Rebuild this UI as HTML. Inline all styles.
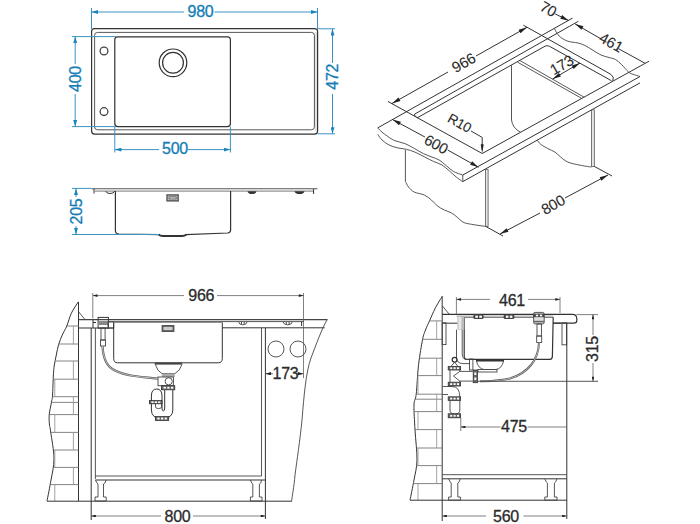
<!DOCTYPE html>
<html><head><meta charset="utf-8">
<style>
html,body{margin:0;padding:0;background:#fff;width:700px;height:524px;overflow:hidden}
svg{display:block}
text{font-family:"Liberation Sans",sans-serif;font-size:16px;letter-spacing:-0.25px}
.b{fill:#157db5;stroke:#157db5;stroke-width:0.3}
.k{fill:#2b2b2b;stroke:#2b2b2b;stroke-width:0.3}
.bl{stroke:#3a93c4;stroke-width:1;fill:none}
.dk{stroke:#333;stroke-width:1.2;fill:none}
.th{stroke:#444;stroke-width:0.9;fill:none}
.ln{stroke:#333;stroke-width:1;fill:none}
.dm{stroke:#555;stroke-width:0.75;fill:none}
</style></head><body>
<svg width="700" height="524" viewBox="0 0 700 524">
<defs>
<marker id="ab" viewBox="0 0 10 6" refX="10" refY="3" markerWidth="7" markerHeight="4" orient="auto-start-reverse" markerUnits="userSpaceOnUse"><path d="M0,0 L10,3 L0,6 z" fill="#1b85bb"/></marker>
<marker id="ak" viewBox="0 0 10 6" refX="10" refY="3" markerWidth="6.5" markerHeight="2.8" orient="auto-start-reverse" markerUnits="userSpaceOnUse"><path d="M0,0 L10,3 L0,6 z" fill="#222"/></marker>
<marker id="ak2" viewBox="0 0 10 6" refX="10" refY="3" markerWidth="7.5" markerHeight="3.4" orient="auto-start-reverse" markerUnits="userSpaceOnUse"><path d="M0,0 L10,3 L0,6 z" fill="#222"/></marker>
</defs>


<!-- ============ PLAN VIEW (top-left) ============ -->
<g id="plan">
  <path d="M316,32 V131" stroke="#e2e2e2" stroke-width="2.4"/>
  <rect x="91.6" y="28.6" width="226" height="105.5" rx="3" class="dk"/>
  <rect x="94.6" y="32.4" width="219.8" height="97.4" rx="3" class="th"/>
  <rect x="114.8" y="36.8" width="115.6" height="89.8" rx="3" class="dk"/>
  <circle cx="104" cy="51" r="3.9" stroke="#444" stroke-width="1.3" fill="none"/>
  <circle cx="104" cy="111.6" r="3.9" stroke="#444" stroke-width="1.3" fill="none"/>
  <circle cx="173" cy="62.8" r="13.8" class="dk" stroke-width="1.4"/>
  <circle cx="173" cy="62.8" r="10.4" class="dk" stroke-width="1.4"/>
  <!-- 980 -->
  <line x1="91.5" y1="8" x2="91.5" y2="29" class="bl"/>
  <line x1="317.5" y1="8" x2="317.5" y2="29" class="bl"/>
  <line x1="91.5" y1="12" x2="184" y2="12" class="bl" marker-start="url(#ab)"/>
  <line x1="214.5" y1="12" x2="317.5" y2="12" class="bl" marker-end="url(#ab)"/>
  <text x="200.5" y="16.8" text-anchor="middle" class="b">980</text>
  <!-- 472 -->
  <line x1="317.5" y1="28.8" x2="335" y2="28.8" class="bl"/>
  <line x1="317.5" y1="133.8" x2="335" y2="133.8" class="bl"/>
  <line x1="332.5" y1="28.8" x2="332.5" y2="63" class="bl" marker-start="url(#ab)"/>
  <line x1="332.5" y1="94" x2="332.5" y2="133.8" class="bl" marker-end="url(#ab)"/>
  <text transform="translate(338.2,76.8) rotate(-90)" text-anchor="middle" class="b">472</text>
  <!-- 400 -->
  <line x1="72" y1="36.6" x2="116" y2="36.6" class="bl"/>
  <line x1="72" y1="126.6" x2="116" y2="126.6" class="bl"/>
  <line x1="75.2" y1="36.6" x2="75.2" y2="64" class="bl" marker-start="url(#ab)"/>
  <line x1="75.2" y1="94" x2="75.2" y2="126.6" class="bl" marker-end="url(#ab)"/>
  <text transform="translate(80.5,79) rotate(-90)" text-anchor="middle" class="b">400</text>
  <!-- 500 -->
  <line x1="114.8" y1="126.6" x2="114.8" y2="152.5" class="bl"/>
  <line x1="230.4" y1="126.6" x2="230.4" y2="152.5" class="bl"/>
  <line x1="114.8" y1="149.6" x2="159" y2="149.6" class="bl" marker-start="url(#ab)"/>
  <line x1="188" y1="149.6" x2="230.4" y2="149.6" class="bl" marker-end="url(#ab)"/>
  <text x="175" y="153.6" text-anchor="middle" class="b">500</text>
</g>

<!-- ============ SIDE VIEW (205) ============ -->
<g id="side">
  <line x1="91.3" y1="188.7" x2="317.5" y2="188.7" stroke="#555" stroke-width="1.1"/>
  <line x1="95" y1="191.1" x2="314" y2="191.1" stroke="#777" stroke-width="1"/>
  <path d="M115.4,191 V230.4 Q115.4,233.8 119,234 L159.5,234.6" class="dk" stroke="#555"/>
  <path d="M230.6,191 V230 Q230.6,232.8 227.6,233 L185.7,234.6" class="dk" stroke="#555"/>
  <path d="M158.5,234.3 Q160,236 163,236 H182 Q185,236 186.5,234.3" stroke="#333" stroke-width="1.8" fill="none"/>
  <rect x="166.3" y="194.2" width="12.6" height="7.4" fill="#5a5a5a"/>
  <rect x="167.8" y="195.7" width="9.6" height="4.4" fill="#cfcfcf"/>
  <rect x="169" y="196.8" width="7.2" height="2.2" fill="none" stroke="#555" stroke-width="0.8"/>
  <line x1="94" y1="188.8" x2="94" y2="193.5" class="ln" stroke-width="1.4"/>
  <path d="M105.6,191.2 Q106.5,193.5 110,193.5 Q113.5,193.5 114.8,191.2" class="ln" stroke-width="1.2"/>
  <path d="M247.5,191.2 Q248,194 252,194 Q256,194 256.5,191.2 z" fill="#333"/>
  <path d="M294.5,191.2 Q295,194 299.5,194 Q304,194 304.5,191.2 z" fill="#333"/>
  <line x1="313.6" y1="189" x2="313.6" y2="194" class="ln" stroke-width="1.2"/>
  <!-- 205 -->
  <line x1="72" y1="188.4" x2="91" y2="188.4" class="bl"/>
  <line x1="72" y1="234.5" x2="159" y2="234.5" class="bl"/>
  <line x1="76" y1="188.4" x2="76" y2="197" class="bl" marker-start="url(#ab)"/>
  <line x1="76" y1="226" x2="76" y2="234.5" class="bl" marker-end="url(#ab)"/>
  <text transform="translate(81.5,211.5) rotate(-90)" text-anchor="middle" class="b">205</text>
</g>

<path d="M78.3,301.9 C77.1,303.8 73.2,309.3 71.3,313.3 C69.4,317.3 68.3,322.4 66.8,326.0 C65.3,329.6 63.6,332.1 62.2,335.1 C60.9,338.2 59.7,341.0 58.7,344.3 C57.7,347.6 57.0,351.4 56.3,355.0 C55.5,358.6 54.7,362.7 54.2,366.0 C53.7,369.3 53.7,370.0 53.4,375.0 C53.1,380.0 52.8,391.5 52.5,396.0 C52.2,400.5 52.0,398.8 51.5,402.0 C51.0,405.2 49.5,411.2 49.2,415.0 C48.9,418.8 49.2,422.2 49.5,425.0 C49.8,427.8 50.0,426.3 50.7,432.0 C51.5,437.7 54.0,451.0 54.0,459.0 C54.0,467.0 52.2,473.0 51.0,480.0 C49.8,487.0 47.7,497.5 47.0,501.0" class="ln"/>
<line x1="78.5" y1="301.9" x2="78.5" y2="501" class="ln"/>
<line x1="78.5" y1="311.6" x2="84.8" y2="319.3" class="th"/>
<line x1="66.8" y1="326" x2="78.5" y2="326" stroke="#777" stroke-width="0.9"/>
<line x1="58.8" y1="344" x2="78.5" y2="344" stroke="#777" stroke-width="0.9"/>
<line x1="55.2" y1="361" x2="78.5" y2="361" stroke="#777" stroke-width="0.9"/>
<line x1="53.2" y1="379.2" x2="78.5" y2="379.2" stroke="#777" stroke-width="0.9"/>
<line x1="52.4" y1="396.7" x2="78.5" y2="396.7" stroke="#777" stroke-width="0.9"/>
<line x1="51.4" y1="402.4" x2="78.5" y2="402.4" stroke="#777" stroke-width="0.9"/>
<line x1="49.3" y1="414.6" x2="78.5" y2="414.6" stroke="#777" stroke-width="0.9"/>
<line x1="50.7" y1="432.4" x2="78.5" y2="432.4" stroke="#777" stroke-width="0.9"/>
<line x1="52.9" y1="450" x2="78.5" y2="450" stroke="#777" stroke-width="0.9"/>
<line x1="52.8" y1="467.4" x2="78.5" y2="467.4" stroke="#777" stroke-width="0.9"/>
<line x1="50.1" y1="484.6" x2="78.5" y2="484.6" stroke="#777" stroke-width="0.9"/>
<line x1="73.4" y1="326" x2="73.4" y2="344.3" stroke="#999" stroke-width="0.9"/>
<line x1="73.4" y1="361" x2="73.4" y2="379.2" stroke="#999" stroke-width="0.9"/>
<line x1="54.8" y1="379.2" x2="54.8" y2="396.7" stroke="#999" stroke-width="0.9"/>
<line x1="73.4" y1="396.7" x2="73.4" y2="414.6" stroke="#999" stroke-width="0.9"/>
<line x1="54.8" y1="414.6" x2="54.8" y2="432.4" stroke="#999" stroke-width="0.9"/>
<line x1="73.4" y1="432.4" x2="73.4" y2="450" stroke="#999" stroke-width="0.9"/>
<line x1="54.8" y1="450" x2="54.8" y2="467.4" stroke="#999" stroke-width="0.9"/>
<line x1="73.4" y1="467.4" x2="73.4" y2="484.6" stroke="#999" stroke-width="0.9"/>
<line x1="54.8" y1="484.6" x2="54.8" y2="501" stroke="#999" stroke-width="0.9"/>
<path d="M442.2,296.3 C441.0,298.3 437.3,304.2 435.2,308.3 C433.1,312.4 431.1,317.3 429.5,320.9 C427.9,324.5 426.6,326.9 425.5,330.0 C424.4,333.1 423.8,333.6 422.6,339.3 C421.5,345.0 419.7,355.2 418.6,364.4 C417.5,373.5 417.0,387.4 416.2,394.2 C415.4,401.0 414.2,399.0 414.0,405.0 C413.8,411.0 414.5,420.8 415.0,430.0 C415.5,439.2 417.2,451.7 417.0,460.0 C416.8,468.3 415.2,473.3 414.0,480.0 C412.8,486.7 410.7,496.7 410.0,500.0" class="ln"/>
<line x1="442.2" y1="296.3" x2="442.2" y2="500" class="ln"/>
<line x1="442.4" y1="306" x2="449.3" y2="314.3" class="th"/>
<line x1="429.5" y1="320.9" x2="442.2" y2="320.9" stroke="#777" stroke-width="0.9"/>
<line x1="422.6" y1="339.3" x2="442.2" y2="339.3" stroke="#777" stroke-width="0.9"/>
<line x1="419.6" y1="358.2" x2="442.2" y2="358.2" stroke="#777" stroke-width="0.9"/>
<line x1="417.7" y1="375.6" x2="442.2" y2="375.6" stroke="#777" stroke-width="0.9"/>
<line x1="416.2" y1="394.2" x2="442.2" y2="394.2" stroke="#777" stroke-width="0.9"/>
<line x1="415.2" y1="399.2" x2="442.2" y2="399.2" stroke="#777" stroke-width="0.9"/>
<line x1="414.3" y1="411.6" x2="442.2" y2="411.6" stroke="#777" stroke-width="0.9"/>
<line x1="415.0" y1="429.6" x2="442.2" y2="429.6" stroke="#777" stroke-width="0.9"/>
<line x1="416.2" y1="448" x2="442.2" y2="448" stroke="#777" stroke-width="0.9"/>
<line x1="416.2" y1="465.6" x2="442.2" y2="465.6" stroke="#777" stroke-width="0.9"/>
<line x1="413.3" y1="483.6" x2="442.2" y2="483.6" stroke="#777" stroke-width="0.9"/>
<line x1="436.7" y1="320.9" x2="436.7" y2="339.3" stroke="#999" stroke-width="0.9"/>
<line x1="436.7" y1="358.2" x2="436.7" y2="375.6" stroke="#999" stroke-width="0.9"/>
<line x1="418" y1="375.6" x2="418" y2="394.2" stroke="#999" stroke-width="0.9"/>
<line x1="436.7" y1="394.2" x2="436.7" y2="411.6" stroke="#999" stroke-width="0.9"/>
<line x1="418" y1="411.6" x2="418" y2="429.6" stroke="#999" stroke-width="0.9"/>
<line x1="436.7" y1="429.6" x2="436.7" y2="448" stroke="#999" stroke-width="0.9"/>
<line x1="418" y1="448" x2="418" y2="465.6" stroke="#999" stroke-width="0.9"/>
<line x1="436.7" y1="465.6" x2="436.7" y2="483.6" stroke="#999" stroke-width="0.9"/>
<line x1="418" y1="483.6" x2="418" y2="500" stroke="#999" stroke-width="0.9"/>
<!-- ============ LEFT ELEVATION (front) ============ -->
<g id="elevL">
  <!-- countertop -->
  <line x1="78.5" y1="319.6" x2="327.3" y2="319.6" stroke="#444" stroke-width="1.3"/>
  <path d="M78.5,328 H113.7 M222.3,327.8 H324.7" class="ln"/>
  <line x1="108" y1="321.6" x2="304" y2="321.6" class="th"/>
  <path d="M327.3,319.5 C322,328 316,345 311,358 C306,372 304,395 302,420 C300,440 297,460 295,475 C294,488 292,496 291.6,501.4" class="th"/>
  <!-- floor -->
  <line x1="47" y1="501.2" x2="291.6" y2="501.2" class="ln"/>
  <!-- cabinet panels -->
  <line x1="91.2" y1="328" x2="91.2" y2="520" class="ln"/>
  <line x1="95.4" y1="328" x2="95.4" y2="479" class="th"/>
  <line x1="261.5" y1="328" x2="261.5" y2="476" class="th"/>
  <line x1="265.4" y1="328" x2="265.4" y2="519" class="ln"/>
  <line x1="95.4" y1="476" x2="261.5" y2="476" class="th"/>
  <line x1="95.4" y1="480" x2="265.4" y2="480" class="ln"/>
  <!-- legs -->
  <path d="M95.5,480 Q97,484 98,484 V497 H95 V501 H106.2 V497 H103.5 V484 Q105,484 106.2,480" class="th"/>
  <path d="M250.4,480 Q252,484 252.8,484 V497 H250.4 V501 H262 V497 H259.4 V484 Q261,484 261.6,480" class="th"/>
  <!-- tap fitting -->
  <rect x="98.1" y="317.4" width="10.3" height="10.7" class="ln" fill="#eee"/>
  <rect x="98.6" y="321" width="9.3" height="4" fill="#888"/>
  <rect x="101" y="328" width="4.1" height="12" class="th"/>
  <rect x="100.5" y="340" width="5" height="6" class="th"/>
  <path d="M93,320 V328 M93,322.5 H96" class="ln"/>
  <rect x="108" y="322" width="5.7" height="6" class="th"/>
  <!-- hose -->
  <path d="M102.5,346 C103,356 106,366 114,370 C125,376 140,377 158,378.5" stroke="#555" stroke-width="2.2" fill="none"/>
  <path d="M102.5,346 C103,356 106,366 114,370 C125,376 140,377 158,378.5" stroke="#ddd" stroke-width="0.8" fill="none"/>
  <!-- basin -->
  <path d="M113.7,322.4 V358.5 Q113.7,362.8 117.7,362.8 H218.3 Q222.3,362.8 222.3,358.5 V322.4" class="ln" stroke="#444"/>
  <line x1="113.7" y1="322.5" x2="222.3" y2="322.5" stroke="#888" stroke-width="0.9"/>
  <rect x="161.6" y="325" width="12.8" height="7" fill="#555"/>
  <rect x="163.4" y="326.8" width="9.2" height="3.4" fill="#ccc"/>
  <!-- clips -->
  <path d="M238.6,321.8 Q239,324.8 242.8,324.8 Q246.7,324.8 247.1,321.8 M241.5,322 V324.3 M244.2,322 V324.3" class="th"/>
  <path d="M283.1,321.8 Q283.5,324.8 287.7,324.8 Q291.9,324.8 292.3,321.8 M286.3,322 V324.3 M289.1,322 V324.3" class="th"/>
  <line x1="301.6" y1="321.6" x2="301.6" y2="326" class="ln"/>
  <!-- drain & trap -->
  <rect x="154.7" y="362.6" width="27.4" height="2" fill="#444"/>
  <path d="M155.4,364.4 Q157,371 162,373.7 H174.8 Q180,371 182,364.4" class="th" fill="#f4f4f4"/>
  <rect x="162" y="373.7" width="12.8" height="3.3" fill="#aaa"/>
  <rect x="158" y="377" width="15.4" height="8.7" class="th" fill="#fafafa"/>
  <path d="M164.7,389.8 V408 Q164.7,411 163.3,411 Q162,411 162,408 V396 Q162,389 156.7,389 Q151.4,389 151.4,396 V410 Q151.4,418.5 162,418.5 Q172.8,418.5 172.8,410 V389.8" class="ln" stroke="#444"/>
  <circle cx="168.7" cy="381.3" r="3.6" class="th" fill="none"/>
  <path d="M155.5,403.8 V407 Q155.5,408.5 158.5,408.5 Q161.5,408.5 161.5,407 V403.8" class="th"/>
  <g fill="#666" stroke="#333" stroke-width="0.8">
    <rect x="161.4" y="385.7" width="13.4" height="4.1"/>
    <rect x="149.4" y="400.5" width="12.6" height="3.3"/>
    <rect x="155.4" y="416.5" width="13.3" height="4"/>
  </g>
  <g fill="#fff">
    <rect x="163.6" y="386.8" width="2.2" height="1.9"/><rect x="167.3" y="386.8" width="2.2" height="1.9"/><rect x="171" y="386.8" width="2.2" height="1.9"/>
    <rect x="151.4" y="401.4" width="2.2" height="1.6"/><rect x="154.8" y="401.4" width="2.2" height="1.6"/><rect x="158.2" y="401.4" width="2.2" height="1.6"/>
    <rect x="157.4" y="417.6" width="2.2" height="1.9"/><rect x="161" y="417.6" width="2.2" height="1.9"/><rect x="164.6" y="417.6" width="2.2" height="1.9"/>
  </g>
  <!-- wall tip block (countertop left) -->
  <!-- 966 -->
  <line x1="92.8" y1="293" x2="92.8" y2="318.4" class="dm"/>
  <line x1="303.5" y1="293" x2="303.5" y2="378" class="dm"/>
  <line x1="92.8" y1="295.6" x2="184" y2="295.6" class="dm" marker-start="url(#ak)"/>
  <line x1="217" y1="295.6" x2="303.5" y2="295.6" class="dm" marker-end="url(#ak)"/>
  <text x="201.3" y="301.3" text-anchor="middle" class="k">966</text>
  <!-- circles -->
  <circle cx="276" cy="349" r="8" class="th"/>
  <circle cx="298" cy="349" r="8" class="th"/>
  <!-- 173 -->
  <line x1="265.4" y1="373.7" x2="273" y2="373.7" class="dm" marker-start="url(#ak2)"/>
  <line x1="297" y1="373.7" x2="303.5" y2="373.7" class="dm" marker-end="url(#ak2)"/>
  <text x="285.5" y="378.5" text-anchor="middle" class="k">173</text>
  <!-- 800 -->
  <line x1="91.2" y1="516" x2="161" y2="516" class="dm" marker-start="url(#ak)"/>
  <line x1="193" y1="516" x2="265.4" y2="516" class="dm" marker-end="url(#ak)"/>
  <text x="177.5" y="522.3" text-anchor="middle" class="k">800</text>
</g>

<!-- ============ RIGHT ELEVATION (side) ============ -->
<g id="elevR">
  <!-- countertop -->
  <path d="M442.2,314.3 H572.5 Q576.8,314.3 576.8,319 V320.5 Q576.8,323.2 574,323.2 H553.2" class="dk"/>
  <path d="M442.2,323.2 H457.6 M553.2,323.2 H561" class="ln"/>
  <rect x="442.2" y="322.8" width="3.8" height="21.8" class="th"/>
  <!-- cabinet -->
  <rect x="562" y="322.8" width="4.6" height="22" class="th" fill="#eee"/>
  <line x1="566.8" y1="322.8" x2="566.8" y2="519" class="ln"/>
  <line x1="442.2" y1="474.7" x2="566.8" y2="474.7" class="th"/>
  <line x1="442.2" y1="478.8" x2="566.8" y2="478.8" class="ln"/>
  <line x1="410" y1="500.2" x2="566.8" y2="500.2" class="ln"/>
  <line x1="442.2" y1="500" x2="442.2" y2="521" class="ln"/>
  <path d="M448.6,478.8 Q450.5,483 451.2,483 V497 H448.6 V500.2 H460.4 V497 H457.8 V483 Q459,483 460.4,478.8" class="th"/>
  <path d="M544.8,478.8 Q546.5,483 547.4,483 V497 H544.8 V500.2 H557 V497 H554.4 V483 Q555.5,483 557,478.8" class="th"/>
  <!-- sink -->
  <rect x="456.4" y="315" width="96.8" height="2.3" fill="#d8d8d8"/>
  <line x1="460.8" y1="317.3" x2="553.2" y2="317.3" stroke="#555" stroke-width="0.9"/>
  <path d="M464.2,317.5 V356.5 Q464.2,359.4 467.5,359.4 H550 Q552.3,359.4 552.4,356 L553.2,317.3" class="dk" stroke="#444"/>
  <g fill="#444"><rect x="473.3" y="314.4" width="10.3" height="4.5" rx="1.5"/><rect x="503.6" y="314.4" width="10.8" height="4.5" rx="1.5"/></g>
  <g fill="#fff"><rect x="475.3" y="315.6" width="2.6" height="2.2"/><rect x="479.3" y="315.6" width="2.6" height="2.2"/><rect x="505.8" y="315.6" width="2.6" height="2.2"/><rect x="509.8" y="315.6" width="2.6" height="2.2"/></g>
  <!-- tap -->
  <rect x="533.6" y="312.4" width="10.6" height="11.5" rx="1.5" fill="#e0e0e0" stroke="#444" stroke-width="0.9"/>
  <rect x="533.6" y="313.6" width="10.6" height="3.6" fill="#444"/>
  <rect x="535.8" y="314.6" width="2.4" height="1.8" fill="#fff"/><rect x="539.8" y="314.6" width="2.4" height="1.8" fill="#fff"/>
  <rect x="533.6" y="320.8" width="10.6" height="1.6" fill="#666"/>
  <rect x="537" y="324" width="4.4" height="12" class="th"/>
  <rect x="536.7" y="336" width="5" height="6.5" class="th"/>
  <path d="M539,342.5 C538.5,360 528,373 510,378.5 C500,381 492,381 480,381.3" stroke="#555" stroke-width="2" fill="none"/>
  <path d="M539,342.5 C538.5,360 528,373 510,378.5 C500,381 492,381 480,381.3" stroke="#ddd" stroke-width="0.7" fill="none"/>
  <!-- overflow pipe -->
  <rect x="457.4" y="316" width="6.9" height="13.6" fill="#bbb"/>
  <rect x="458.4" y="317" width="3" height="12" fill="#e8e8e8"/>
  <path d="M456.5,329.6 V357 Q456.5,363.6 463,363.6 H470" class="th" stroke="#666"/>
  <path d="M462.2,329.6 V354 Q462.2,359.5 467,359.5 H470" class="th" stroke="#666"/>
  <circle cx="454.6" cy="359.8" r="2.4" fill="none" stroke="#333" stroke-width="1.2"/>
  <rect x="469.5" y="359" width="3.4" height="11" class="th" fill="#f4f4f4"/>
  <!-- drain -->
  <rect x="476" y="359.5" width="28" height="2" fill="#333"/>
  <path d="M476.5,361 Q478,368.5 484,369.5 H496 Q502,368.5 503.5,361" class="th" fill="#f4f4f4"/>
  <rect x="478" y="369.5" width="19" height="2.5" class="th" fill="#ddd"/>
  <!-- trap -->
  <path d="M454.6,362.2 L451,366.4 M454.6,362.2 L458,366.4" class="th"/>
  <path d="M450,370 V382 M459.8,370 V371.4 M459.8,381 V382" class="th"/>
  <path d="M459.8,371.4 H472.8 M459.8,381.1 H472.8 M453.5,376 L459.8,371.4 M453.5,376 L459.8,381.1" class="th"/>
  <path d="M442.5,386.5 H452 Q459.8,386.5 459.8,396.8 M442.5,394.5 H448" class="th"/>
  <path d="M450,400.4 V410 Q450,414 454.9,414 Q459.8,414 459.8,410 V400.4" class="th"/>
  <g fill="#666" stroke="#333" stroke-width="0.8">
    <rect x="448.2" y="366.4" width="12.4" height="3.6"/>
    <rect x="448.2" y="382.2" width="12.4" height="3.8"/>
    <rect x="448.2" y="396.8" width="12.4" height="3.6"/>
    <rect x="448.2" y="413.8" width="12.4" height="4"/>
  </g>
  <g fill="#fff">
    <rect x="450.2" y="367.3" width="2" height="1.8"/><rect x="453.6" y="367.3" width="2" height="1.8"/><rect x="457" y="367.3" width="2" height="1.8"/>
    <rect x="450.2" y="383.2" width="2" height="1.8"/><rect x="453.6" y="383.2" width="2" height="1.8"/><rect x="457" y="383.2" width="2" height="1.8"/>
    <rect x="450.2" y="397.7" width="2" height="1.8"/><rect x="453.6" y="397.7" width="2" height="1.8"/><rect x="457" y="397.7" width="2" height="1.8"/>
    <rect x="450.2" y="414.9" width="2" height="1.8"/><rect x="453.6" y="414.9" width="2" height="1.8"/><rect x="457" y="414.9" width="2" height="1.8"/>
  </g>
  <rect x="473.2" y="370" width="4.2" height="12.7" fill="#666" stroke="#333" stroke-width="0.8"/>
  <rect x="474.3" y="372.5" width="2" height="2.5" fill="#fff"/><rect x="474.3" y="377.5" width="2" height="2.5" fill="#fff"/>
  <path d="M477.4,381.3 H598" class="th"/>
  <!-- 461 -->
  <line x1="456.4" y1="297" x2="456.4" y2="314.6" class="dm"/>
  <line x1="560" y1="297" x2="560" y2="313" class="dm"/>
  <line x1="456.4" y1="299.4" x2="490" y2="299.4" class="dm" marker-start="url(#ak)"/>
  <line x1="528" y1="299.4" x2="560" y2="299.4" class="dm" marker-end="url(#ak)"/>
  <text x="512" y="305.6" text-anchor="middle" class="k">461</text>
  <!-- 315 -->
  <line x1="576.5" y1="314.6" x2="598" y2="314.6" class="dm"/>
  <line x1="593" y1="314.6" x2="593" y2="335" class="dm" marker-start="url(#ak)"/>
  <line x1="593" y1="363" x2="593" y2="381.3" class="dm" marker-end="url(#ak)"/>
  <text transform="translate(597.5,349) rotate(-90)" text-anchor="middle" class="k">315</text>
  <!-- 475 -->
  <line x1="460.8" y1="418" x2="460.8" y2="431" class="dm"/>
  <line x1="460.8" y1="427" x2="500.5" y2="427" class="dm" marker-start="url(#ak)"/>
  <line x1="527.5" y1="427" x2="566.8" y2="427" class="dm"/>
  <text x="514" y="431.5" text-anchor="middle" class="k">475</text>
  <!-- 560 -->
  <line x1="442.2" y1="516" x2="486" y2="516" class="dm" marker-start="url(#ak)"/>
  <line x1="523.5" y1="516" x2="566.8" y2="516" class="dm" marker-end="url(#ak)"/>
  <text x="506" y="522" text-anchor="middle" class="k">560</text>
</g>

<!-- ============ ISO VIEW ============ -->
<g id="iso">
<line x1="377.7" y1="127.9" x2="572.5" y2="18.1" class="ln" stroke="#444" stroke-width="0.8"/>
<path d="M377.7,127.9 C378.4,128.6 380.3,130.7 382.0,132.1 C383.7,133.5 385.6,135.0 387.7,136.4 C389.8,137.8 392.0,139.5 394.9,140.7 C397.8,141.9 401.8,142.4 404.9,143.6 C408.0,144.8 410.3,146.2 413.4,147.9 C416.5,149.6 420.3,152.1 423.4,153.6 C426.5,155.1 429.4,156.0 432.0,157.1 C434.6,158.2 436.7,158.6 439.1,160.0 C441.5,161.4 443.9,163.8 446.3,165.7 C448.7,167.6 450.7,169.8 453.4,171.4 C456.1,173.0 461.1,174.4 462.7,175.0" class="th"/>
<path d="M377.7,134.3 C378.4,135.2 380.1,138.2 382.0,140.0 C383.9,141.8 386.5,143.7 389.1,145.0 C391.7,146.3 394.8,147.2 397.7,147.9 C400.6,148.6 403.4,148.6 406.3,149.3 C409.2,150.0 411.8,150.8 414.9,152.1 C418.0,153.4 421.8,155.5 424.9,157.1 C428.0,158.7 430.5,160.1 433.4,161.4 C436.2,162.7 439.4,163.4 442.0,165.0 C444.6,166.6 446.7,168.7 449.1,170.7 C451.5,172.7 454.0,175.3 456.3,177.1 C458.6,178.9 461.6,180.8 462.7,181.6" class="th"/>
<line x1="462.8" y1="175" x2="462.8" y2="181.6" class="th"/>
<line x1="462.8" y1="175" x2="640" y2="76.5" class="ln" stroke="#444" stroke-width="0.8"/>
<line x1="462.8" y1="181.6" x2="640" y2="82.9" class="ln" stroke="#444" stroke-width="0.8"/>
<path d="M554.3,28.2 C554.7,28.9 555.5,31.0 556.5,32.5 C557.5,34.0 558.6,35.7 560.5,37.2 C562.4,38.7 565.1,40.3 568.0,41.3 C570.9,42.3 575.2,42.3 578.0,43.0 C580.8,43.7 582.5,44.3 585.0,45.5 C587.5,46.7 590.3,48.7 593.0,50.3 C595.7,51.9 598.3,53.8 601.0,55.0 C603.7,56.2 606.6,56.8 609.0,57.5 C611.4,58.2 613.4,58.3 615.5,59.5 C617.6,60.7 619.3,62.4 621.5,64.5 C623.7,66.6 626.6,70.4 628.5,72.0 C630.4,73.6 631.1,73.5 633.0,74.3 C634.9,75.0 638.8,76.1 640.0,76.5" class="th"/>
<line x1="388" y1="101.5" x2="482.2" y2="153.5" class="ln" stroke="#444" stroke-width="0.8"/>
<path d="M416.5,117 Q412.8,115.2 414.8,114 L578.3,21.3" class="ln" stroke="#444" stroke-width="0.8"/>
<path d="M417.1,117.9 L545,46.2 Q547.5,45 549.5,46.3 L611.6,80.8" class="ln" stroke="#444" stroke-width="0.8"/>
<line x1="482.2" y1="153.5" x2="649" y2="61.2" class="ln" stroke="#444" stroke-width="0.8"/>
<path d="M523.4,25.2 L610.8,74.3 Q614.6,76.8 612.9,80.8" class="ln" stroke="#444" stroke-width="0.8"/>
<path d="M511.5,65.3 V120 Q512.5,128 520.5,132.3" class="th"/>
<line x1="517.6" y1="62.2" x2="581.4" y2="98.2" class="th"/>
<line x1="520.2" y1="60.7" x2="584.3" y2="97.3" class="th"/>
<line x1="405.4" y1="150" x2="405.4" y2="181.4" class="th"/>
<path d="M405.4,181.4 C405.9,182.3 407.1,185.3 408.6,187.1 C410.1,188.9 411.7,190.8 414.3,192.1 C416.9,193.4 421.5,193.7 424.3,195.0 C427.1,196.3 429.3,198.2 431.4,200.0 C433.5,201.8 435.0,204.0 437.1,205.7 C439.2,207.4 441.9,208.8 444.3,210.0 C446.7,211.2 449.3,211.7 451.4,212.9 C453.5,214.1 455.2,215.6 457.1,217.1 C459.0,218.6 460.5,220.9 462.9,222.1 C465.3,223.3 467.6,223.6 471.4,224.3 C475.2,225.0 483.3,226.1 485.7,226.4" class="th"/>
<rect x="485.4" y="169.6" width="2.7" height="56.8" fill="#e6e6e6" stroke="#555" stroke-width="0.8"/>
<rect x="591.4" y="109.8" width="2.9" height="56.6" fill="#e6e6e6" stroke="#555" stroke-width="0.8"/>
<path d="M537.1,140.0 C537.7,140.7 538.9,142.9 540.7,144.3 C542.5,145.7 545.5,147.3 547.9,148.6 C550.3,149.9 552.9,150.7 555.0,152.1 C557.1,153.5 558.6,155.4 560.7,157.1 C562.9,158.8 564.8,160.8 567.9,162.1 C571.0,163.4 575.4,164.2 579.3,165.0 C583.2,165.8 589.4,166.8 591.4,167.1" class="th"/>
<line x1="392.0" y1="103.5" x2="448.0" y2="72.0" class="ln" stroke-width="0.8"/>
<line x1="476.0" y1="56.0" x2="527.0" y2="27.3" class="ln" stroke-width="0.8"/>
<path d="M392.0,103.5 L398.4,97.6 L400.4,101.1 z" fill="#222"/>
<path d="M527.0,27.3 L520.6,33.2 L518.6,29.7 z" fill="#222"/>
<text transform="translate(463.5,62.5) rotate(-29.5)" text-anchor="middle" dominant-baseline="central" class="k" style="font-size:15px;letter-spacing:-0.2px;stroke-width:0.1">966</text>
<line x1="392.5" y1="119.5" x2="424.9" y2="137.0" class="ln" stroke-width="0.8"/>
<line x1="447.7" y1="150.0" x2="478.5" y2="167.2" class="ln" stroke-width="0.8"/>
<path d="M392.5,119.5 L400.9,121.8 L399.0,125.3 z" fill="#222"/>
<path d="M478.5,167.2 L470.1,164.8 L472.1,161.3 z" fill="#222"/>
<text transform="translate(436.3,144.0) rotate(29.0)" text-anchor="middle" dominant-baseline="central" class="k" style="font-size:15px;letter-spacing:-0.2px;stroke-width:0.1">600</text>
<text transform="translate(459.5,123.3) rotate(29.0)" text-anchor="middle" dominant-baseline="central" class="k" style="font-size:13.8px;letter-spacing:-0.2px;stroke-width:0.1">R10</text>
<path d="M471,131 L482.2,137.4 V150" class="ln" stroke-width="0.8"/>
<path d="M482.2,153.3 L480.7,144.3 L483.7,144.3 z" fill="#222"/>
<line x1="555.2" y1="13.9" x2="568.8" y2="20.7" class="ln" stroke-width="0.8"/>
<path d="M568.8,20.7 L560.3,18.7 L562.1,15.1 z" fill="#222"/>
<line x1="575.1" y1="23.9" x2="600.5" y2="38.6" class="ln" stroke-width="0.8"/>
<path d="M575.1,23.9 L583.5,26.3 L581.5,29.8 z" fill="#222"/>
<line x1="618.3" y1="48.6" x2="645.1" y2="63.3" class="ln" stroke-width="0.8"/>
<text transform="translate(548.5,8.8) rotate(29.0)" text-anchor="middle" dominant-baseline="central" class="k" style="font-size:15px;letter-spacing:-0.2px;stroke-width:0.1">70</text>
<text transform="translate(611.3,42.2) rotate(29.0)" text-anchor="middle" dominant-baseline="central" class="k" style="font-size:15px;letter-spacing:-0.2px;stroke-width:0.1">461</text>
<line x1="552.6" y1="79.0" x2="580.0" y2="63.0" class="ln" stroke-width="0.8"/>
<path d="M552.6,79.0 L558.9,73.0 L560.9,76.4 z" fill="#222"/>
<path d="M580.0,63.0 L573.7,69.0 L571.7,65.6 z" fill="#222"/>
<text transform="translate(561.5,64.7) rotate(-30.0)" text-anchor="middle" dominant-baseline="central" class="k" style="font-size:15px;letter-spacing:-0.2px;stroke-width:0.1">173</text>
<line x1="500.0" y1="234.0" x2="540.0" y2="213.0" class="ln" stroke-width="0.8"/>
<line x1="565.0" y1="198.0" x2="608.0" y2="175.0" class="ln" stroke-width="0.8"/>
<path d="M500.0,234.0 L506.6,228.3 L508.5,231.8 z" fill="#222"/>
<path d="M608.0,175.0 L601.4,180.8 L599.6,177.2 z" fill="#222"/>
<text transform="translate(553.0,204.5) rotate(-29.0)" text-anchor="middle" dominant-baseline="central" class="k" style="font-size:15px;letter-spacing:-0.2px;stroke-width:0.1">800</text>
<line x1="485.7" y1="226.4" x2="503.0" y2="236.0" class="ln" stroke-width="0.8"/>
<line x1="594.3" y1="166.4" x2="612.0" y2="176.0" class="ln" stroke-width="0.8"/>
</g>
</svg></body></html>
